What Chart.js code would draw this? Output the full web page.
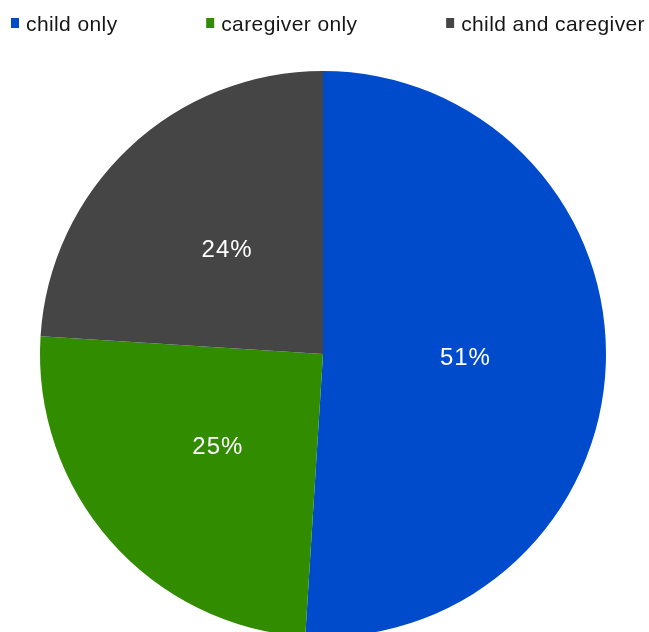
<!DOCTYPE html>
<html>
<head>
<meta charset="utf-8">
<script src="https://cdn.jsdelivr.net/npm/chart.js@4/dist/chart.umd.min.js"></script>
<style>
  html, body { margin: 0; padding: 0; background: #ffffff; overflow: hidden; }
  #wrap { width: 649px; height: 632px; overflow: hidden; }
</style>
</head>
<body>
<div id="wrap"><canvas id="pie" width="649" height="648"></canvas></div>
<script>
// Who the response came from
const categories = ['child only', 'caregiver only', 'child and caregiver'];
const shares = [51, 25, 24];
const sliceColors = ['#004BCB', '#318C00', '#454545'];

// Legend row across the top, drawn on the canvas
const topLegend = {
  id: 'topLegend',
  afterDraw(chart) {
    const ctx = chart.ctx;
    const ds = chart.data.datasets[0];
    ctx.save();
    ctx.font = '21px "Liberation Sans", Arial, sans-serif';
    ctx.letterSpacing = '0.4px';
    ctx.textBaseline = 'alphabetic';
    const boxW = 8, boxH = 10, textGap = 15;
    const left = 11, right = 645;
    const widths = chart.data.labels.map(t => textGap + ctx.measureText(t).width);
    const used = widths.reduce((a, b) => a + b, 0);
    const gap = (right - left - used) / (widths.length - 1);
    let x = left;
    chart.data.labels.forEach((label, i) => {
      ctx.fillStyle = ds.backgroundColor[i];
      ctx.fillRect(x, 18, boxW, boxH);
      ctx.fillStyle = '#161616';
      ctx.fillText(label, x + textGap, 31);
      x += widths[i] + gap;
    });
    ctx.restore();
  }
};

// Percentage text at the centre of each slice
const sliceLabels = {
  id: 'sliceLabels',
  afterDatasetsDraw(chart) {
    const ctx = chart.ctx;
    const meta = chart.getDatasetMeta(0);
    const values = chart.data.datasets[0].data;
    ctx.save();
    ctx.font = '24px "Liberation Sans", Arial, sans-serif';
    ctx.letterSpacing = '1px';
    ctx.fillStyle = '#ffffff';
    ctx.textAlign = 'center';
    ctx.textBaseline = 'middle';
    meta.data.forEach((arc, i) => {
      const p = arc.tooltipPosition();
      ctx.fillText(values[i] + '%', p.x + 1, p.y);
    });
    ctx.restore();
  }
};

new Chart(document.getElementById('pie'), {
  type: 'pie',
  data: {
    labels: categories,
    datasets: [{
      data: shares,
      backgroundColor: sliceColors,
      borderWidth: 0,
      radius: 283
    }]
  },
  options: {
    responsive: false,
    animation: false,
    layout: { padding: { top: 60, right: 3, bottom: 0, left: 0 } },
    plugins: {
      legend: { display: false },
      tooltip: { enabled: false }
    }
  },
  plugins: [topLegend, sliceLabels]
});
</script>
</body>
</html>
